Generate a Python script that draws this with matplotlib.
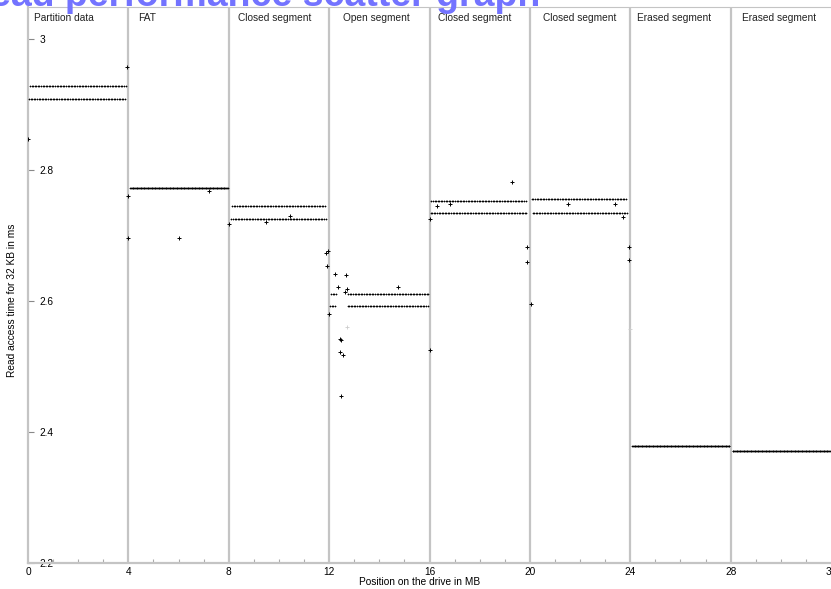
import numpy as np
import matplotlib
matplotlib.use("Agg")
import matplotlib.pyplot as plt

plt.rcParams['font.family'] = ['Liberation Sans', 'DejaVu Sans']

# ---------------- data ----------------
segment_starts = [0, 4, 8, 12, 16, 20, 24, 28]
segment_labels = ["Partition data", "FAT", "Closed segment", "Open segment",
                  "Closed segment", "Closed segment", "Erased segment", "Erased segment"]
# band levels (ms); None = single band
upper_band = [2.928, 2.772, 2.745, 2.611, 2.752, 2.755, 2.379, 2.371]
lower_band = [2.908, None, 2.725, 2.592, 2.734, 2.735, None, None]
# extent (MB) of each band's samples
band_from = [0.04, 4.06, 8.08, 12.04, 16.02, 20.07, 24.05, 28.05]
band_to = [3.92, 7.98, 11.86, 15.98, 19.86, 23.86, 27.98, 31.98]
# samples missing in the open segment
gap_from = [12.27]
gap_to = [12.72]
sample_step_mb = 32 / 1024  # one read per 32 KB

outlier_x = [0.0, 3.95, 4.0, 4.0, 6.02, 7.2, 8.0, 9.5, 10.45, 11.88, 11.95, 11.9,
             12.0, 12.25, 12.66, 12.35, 12.71, 14.74, 12.63, 12.42, 12.46, 12.44,
             12.55, 12.47, 16.0, 16.0, 16.3, 16.8, 19.3, 19.9, 19.9, 20.05, 21.5,
             23.4, 23.7, 23.95, 23.95]
outlier_y = [2.847, 2.957, 2.760, 2.696, 2.696, 2.768, 2.718, 2.720, 2.730, 2.674,
             2.677, 2.653, 2.580, 2.642, 2.639, 2.622, 2.618, 2.622, 2.613, 2.542,
             2.540, 2.522, 2.517, 2.455, 2.525, 2.725, 2.745, 2.748, 2.781, 2.683,
             2.660, 2.595, 2.748, 2.748, 2.728, 2.683, 2.663]
faint_x = [12.73, 24.0]
faint_y = [2.560, 2.557]

y_ticks = [2.2, 2.4, 2.6, 2.8, 3.0]
y_tick_labels = ["2.2", "2.4", "2.6", "2.8", "3"]
x_ticks = [0, 4, 8, 12, 16, 20, 24, 28, 32]
x_tick_labels = ["0", "4", "8", "12", "16", "20", "24", "28", "32"]

# ---------------- build points ----------------
px, py = [], []
for s, up, lo, a, b in zip(segment_starts, upper_band, lower_band, band_from, band_to):
    xs = s + (np.arange(128) + 0.5) * sample_step_mb
    for k, x in enumerate(xs):
        if x < a or x > b:
            continue
        if any(g0 < x < g1 for g0, g1 in zip(gap_from, gap_to)):
            continue
        if lo is None:
            px.append(x); py.append(up)
        else:
            px.append(x); py.append(up if k % 2 == 0 else lo)

# ---------------- figure ----------------
W, H = 831, 589
fig = plt.figure(figsize=(W / 100, H / 100), dpi=100)
ax = fig.add_axes([28 / W, 26 / H, 803 / W, 556 / H])
ax.set_xlim(0, 32)
ax.set_ylim(2.2, 3.0489)

grey = "#c4c4c4"
ax.vlines(segment_starts[1:], 2.2, 3.0489, colors=grey, lw=1.6, zorder=1)

ax.plot(px, py, ls="none", marker="+", ms=2.0, mew=0.5, color="black", zorder=3)
ax.plot(outlier_x, outlier_y, ls="none", marker="+", ms=2.8, mew=0.7, color="black", zorder=3)
ax.plot(faint_x, faint_y, ls="none", marker="+", ms=3, mew=0.6, color="#cccccc", zorder=3)

label_x = [0.24, 4.38, 8.37, 12.55, 16.32, 20.52, 24.26, 28.45]
for lx, lab in zip(label_x, segment_labels):
    ax.text(lx, 3.032, lab, fontsize=7.3, ha="left", va="center", color="#222222")

for sp in ["left", "bottom"]:
    ax.spines[sp].set_color(grey)
    ax.spines[sp].set_linewidth(1.6)
ax.spines["top"].set_color(grey)
ax.spines["top"].set_linewidth(0.8)
ax.spines["right"].set_visible(False)

ax.set_yticks(y_ticks)
ax.set_yticklabels(y_tick_labels)
ax.tick_params(axis="y", direction="in", length=4, width=0.8, color="#888888",
               pad=-8, labelsize=7.3)
for t in ax.get_yticklabels():
    t.set_horizontalalignment("left")

ax.set_xticks(x_ticks)
ax.set_xticklabels(x_tick_labels)
ax.set_xticks(np.arange(0, 33, 1), minor=True)
ax.tick_params(axis="x", which="major", length=0, pad=3, labelsize=7.3)
ax.tick_params(axis="x", which="minor", direction="in", length=3, width=0.8, color="#aaaaaa")

fig.text(420 / W, 1 - 582 / H, "Position on the drive in MB", fontsize=7.3,
         ha="center", va="center")
fig.text(12 / W, 1 - 300 / H, "Read access time for 32 KB in ms", fontsize=7.3,
         ha="center", va="center", rotation=90)

fig.text(540 / W, 1 - 5.5 / H, "Read performance scatter graph", fontsize=27,
         fontweight="bold", color="#7373ff", ha="right", va="baseline")

fig.savefig("out.png", dpi=100)
